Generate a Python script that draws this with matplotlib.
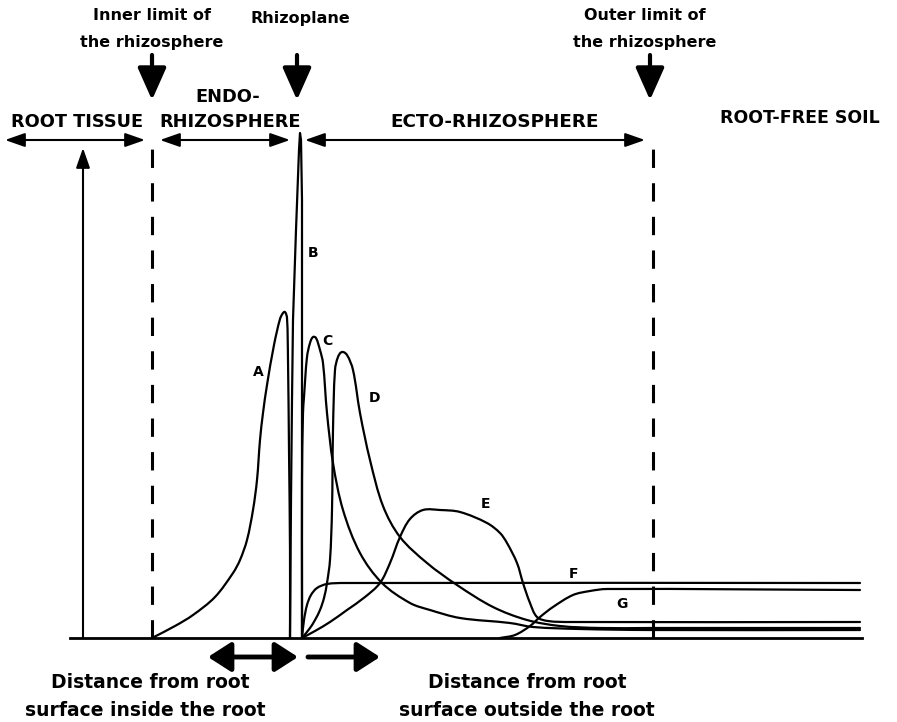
import matplotlib
matplotlib.use("Agg")
import matplotlib.pyplot as plt
from matplotlib.path import Path
from matplotlib.patches import PathPatch
import numpy as np

# Distance from the root surface (arbitrary units, rhizoplane = 0) and
# relative abundance (arbitrary units) for each microbial distribution type.
dist_A = [-14.8, -12.5, -10.7, -8.5, -6.7, -6.0, -5.3, -4.7, -4.3, -4.0, -3.7, -3.3,
          -2.6, -2.0, -1.7, -1.5, -1.3, -1.2, -1.1, -1.0, -1.0]
abund_A = [0, 2.4, 4.6, 8.2, 13.0, 15.6, 19.6, 25.6, 31.6, 39.6, 45.0, 50.6,
           58.6, 63.8, 65.0, 65.2, 64.0, 55.6, 37.6, 17.6, 0]

dist_B = [-1.0, -0.9, -0.8, -0.7, -0.4, -0.1, 0.0, 0.1, 0.2, 0.2]
abund_B = [0, 27.6, 47.6, 63.6, 81.6, 97.6, 101.0, 99.6, 87.6, 0]

dist_C = [0.2, 0.2, 0.2, 0.3, 0.4, 0.7, 1.0, 1.3, 1.6, 2.0, 2.3, 2.7, 3.3, 4.3, 6.0,
          8.2, 11.0, 13.0, 16.0, 21.0, 23.3, 28.0, 35.0, 56.0]
abund_C = [0, 7.6, 31.6, 45.0, 48.2, 56.2, 59.0, 60.2, 60.0, 57.6, 55.0, 45.0, 35.0,
           25.6, 17.0, 11.0, 7.0, 5.6, 4.0, 3.0, 2.2, 1.8, 1.6, 1.6]

dist_D = [0.2, 1.0, 1.5, 2.0, 2.4, 2.7, 3.0, 3.2, 3.3, 3.5, 3.8, 4.2, 4.7, 5.3, 6.0,
          7.0, 8.3, 10.0, 12.7, 15.7, 19.3, 22.7, 26.0, 30.0, 35.0, 56.0]
abund_D = [0, 2.0, 3.6, 5.6, 8.0, 11.0, 15.6, 25.6, 41.6, 53.6, 56.2, 57.2, 56.6,
           53.6, 45.0, 35.6, 26.4, 20.2, 15.0, 10.6, 6.2, 3.6, 2.4, 2.0, 2.0, 2.0]

dist_E = [0.2, 1.5, 3.0, 4.7, 6.5, 8.0, 9.0, 10.0, 11.0, 12.3, 14.0, 16.0, 18.7, 20.0,
          20.7, 21.7, 22.3, 23.0, 23.7, 24.8, 27.0, 56.0]
abund_E = [0, 1.4, 3.2, 5.6, 8.2, 11.0, 15.0, 20.2, 23.8, 25.6, 25.6, 25.2, 23.0, 21.0,
           19.0, 15.0, 11.0, 7.0, 4.2, 3.4, 3.2, 3.2]

dist_F = [0.2, 0.4, 0.7, 1.1, 1.7, 2.7, 4.5, 56.0]
abund_F = [0, 3.6, 6.6, 8.6, 10.0, 10.8, 11.0, 11.0]

dist_G = [20.0, 21.5, 23.0, 24.0, 25.3, 27.3, 29.0, 30.7, 56.0]
abund_G = [0, 0.6, 2.4, 4.2, 6.2, 8.6, 9.4, 9.8, 9.6]

curve_names = ["A", "B", "C", "D", "E", "F", "G"]
label_pos_x = [-4.2, 1.3, 2.7, 7.4, 18.6, 27.3, 32.2]
label_pos_y = [53.2, 77.0, 59.4, 48.0, 26.8, 12.8, 6.8]

# Zone boundaries along the distance axis
inner_limit = -14.8
rhizoplane = 0.0
outer_limit = 35.3
axis_start = -23.0
axis_end = 56.2
yaxis_x = -21.7

FONT = "DejaVu Sans"

XLIM = (-30, 59.7)
YLIM = (-16.8, 127.6)
FIG_W, FIG_H = 8.97, 7.22

fig = plt.figure(figsize=(FIG_W, FIG_H), dpi=100)
ax = fig.add_axes([0, 0, 1, 1])
ax.set_xlim(*XLIM)
ax.set_ylim(*YLIM)
ax.axis("off")

# aspect factor so that curve smoothing works in screen-proportional space
X_SCALE = FIG_W / (XLIM[1] - XLIM[0])
Y_SCALE = FIG_H / (YLIM[1] - YLIM[0])


def smooth_path(xs, ys, k=1.0):
    """Cubic Bezier path through every given point, handles sized by chord length."""
    pts = np.column_stack([np.asarray(xs, float) * X_SCALE,
                           np.asarray(ys, float) * Y_SCALE])
    n = len(pts)
    tang = np.zeros_like(pts)
    for i in range(n):
        a = pts[max(i - 1, 0)]
        b = pts[min(i + 1, n - 1)]
        d = b - a
        norm = np.hypot(*d)
        tang[i] = d / norm if norm > 0 else 0
    verts = [pts[0]]
    codes = [Path.MOVETO]
    for i in range(n - 1):
        p1, p2 = pts[i], pts[i + 1]
        seg = np.hypot(*(p2 - p1))
        c1 = p1 + tang[i] * seg * k / 3.0
        c2 = p2 - tang[i + 1] * seg * k / 3.0
        verts += [c1, c2, p2]
        codes += [Path.CURVE4] * 3
    verts = np.array(verts)
    verts[:, 0] /= X_SCALE
    verts[:, 1] /= Y_SCALE
    return Path(verts, codes)


LW = 1.6
curves = [(dist_A, abund_A, True), (dist_B, abund_B, False), (dist_C, abund_C, True),
          (dist_D, abund_D, True), (dist_E, abund_E, True), (dist_F, abund_F, True),
          (dist_G, abund_G, True)]
for xs, ys, smooth in curves:
    if smooth:
        ax.add_patch(PathPatch(smooth_path(xs, ys), facecolor="none", edgecolor="black",
                               lw=LW, joinstyle="round", capstyle="round"))
    else:
        ax.plot(xs, ys, color="black", lw=LW, solid_joinstyle="round",
                solid_capstyle="round")

for name, lx, ly in zip(curve_names, label_pos_x, label_pos_y):
    ax.text(lx, ly, name, ha="center", va="center", fontsize=10, fontweight="bold",
            family=FONT)

# Baseline (distance axis)
ax.plot([axis_start, axis_end], [0, 0], color="black", lw=LW + 0.4)

# Vertical abundance axis with arrowhead
ax.annotate("", xy=(yaxis_x, 98), xytext=(yaxis_x, 0),
            arrowprops=dict(arrowstyle="-|>,head_length=1.0,head_width=0.35",
                            mutation_scale=12, lw=1.5, color="black",
                            shrinkA=0, shrinkB=0))

# Rhizosphere limits
for xv in (inner_limit, outer_limit):
    ax.plot([xv, xv], [0, 99.6], color="black", lw=2.2, dashes=(6, 5))

# Zone extent arrows on the top row
row_y = 99.6
for x0, x1 in [(-29.5, -15.5), (-14.0, -1.0), (0.5, 34.5)]:
    ax.annotate("", xy=(x1, row_y), xytext=(x0, row_y),
                arrowprops=dict(arrowstyle="<|-|>,head_length=1.0,head_width=0.35",
                                mutation_scale=12, lw=1.5, color="black",
                                shrinkA=0, shrinkB=0))

# Downward pointers to the boundaries
for xv in (inner_limit, -0.3, 35.0):
    ax.annotate("", xy=(xv, 107.6), xytext=(xv, 116.6),
                arrowprops=dict(arrowstyle="-|>,head_length=0.9,head_width=0.4",
                                mutation_scale=22, lw=3.0, color="black",
                                shrinkA=0, shrinkB=0))

# Bottom distance arrows
ax.annotate("", xy=(-0.2, -3.8), xytext=(-9.2, -3.8),
            arrowprops=dict(arrowstyle="<|-|>,head_length=0.7,head_width=0.45",
                            mutation_scale=20, lw=3.5, color="black",
                            shrinkA=0, shrinkB=0))
ax.annotate("", xy=(8.0, -3.8), xytext=(0.8, -3.8),
            arrowprops=dict(arrowstyle="-|>,head_length=0.7,head_width=0.45",
                            mutation_scale=20, lw=3.5, color="black",
                            shrinkA=0, shrinkB=0))

# Header texts
tkw = dict(ha="center", va="center", fontweight="bold", family=FONT)
ax.text(-14.8, 124.6, "Inner limit of", fontsize=11.5, **tkw)
ax.text(-14.8, 119.0, "the rhizosphere", fontsize=11.5, **tkw)
ax.text(0.0, 124.0, "Rhizoplane", fontsize=11.5, **tkw)
ax.text(34.5, 124.6, "Outer limit of", fontsize=11.5, **tkw)
ax.text(34.5, 119.0, "the rhizosphere", fontsize=11.5, **tkw)

ax.text(-22.3, 103.2, "ROOT TISSUE", fontsize=12.8, **tkw)
ax.text(-7.2, 108.2, "ENDO-", fontsize=12.8, **tkw)
ax.text(-7.0, 103.2, "RHIZOSPHERE", fontsize=12.8, **tkw)
ax.text(19.5, 103.2, "ECTO-RHIZOSPHERE", fontsize=13.2, **tkw)
ax.text(50.0, 104.0, "ROOT-FREE SOIL", fontsize=12.5, **tkw)

# Axis captions
ax.text(-15.0, -8.8, "Distance from root", fontsize=13.5, **tkw)
ax.text(-15.5, -14.6, "surface inside the root", fontsize=13.5, **tkw)
ax.text(22.7, -8.8, "Distance from root", fontsize=13.5, **tkw)
ax.text(22.7, -14.6, "surface outside the root", fontsize=13.5, **tkw)

fig.savefig("out.png", dpi=100)
